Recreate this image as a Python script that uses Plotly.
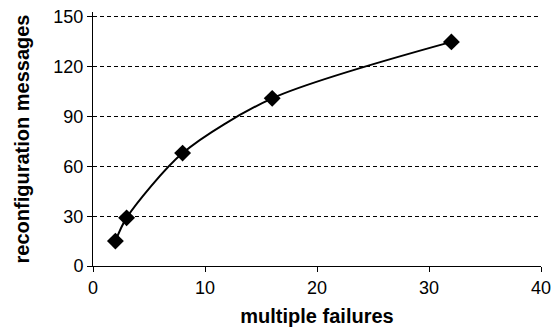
import plotly.graph_objects as go

failures = [2, 3, 8, 16, 32]
messages = [15, 29, 68, 101, 135]
x_ticks = [0, 10, 20, 30, 40]
y_ticks = [0, 30, 60, 90, 120, 150]

fig = go.Figure()
fig.add_trace(go.Scatter(
    x=failures, y=messages, mode="lines+markers",
    line=dict(color="black", width=2, shape="spline", smoothing=0.8),
    marker=dict(symbol="diamond", size=13, color="black"),
    showlegend=False, cliponaxis=False,
))

font = "Liberation Sans, Arial, sans-serif"
fig.update_layout(
    width=553, height=334,
    margin=dict(l=93, r=12, t=12, b=68, autoexpand=False),
    paper_bgcolor="white", plot_bgcolor="white",
    font=dict(family=font, color="black", size=18),
)
fig.update_xaxes(
    range=[0, 40], tickvals=x_ticks, showgrid=False, zeroline=False,
    showline=True, linecolor="black", linewidth=1, automargin=False,
    ticks="outside", ticklen=5, tickcolor="black",
    title=dict(text="<b>multiple failures</b>", font=dict(size=20), standoff=12),
)
fig.update_yaxes(
    range=[0, 153], tickvals=y_ticks, showgrid=True, gridcolor="black",
    gridwidth=1, griddash="4px,3px", zeroline=False,
    showline=True, linecolor="black", linewidth=1, automargin=False,
    ticks="outside", ticklen=5, tickcolor="black",
    title=dict(text="<b>reconfiguration messages</b>", font=dict(size=20), standoff=18),
)
fig.write_html(
    "out.html",
    config={"displayModeBar": False},
    post_script="document.body.style.margin='0';document.body.style.overflow='hidden';",
)
